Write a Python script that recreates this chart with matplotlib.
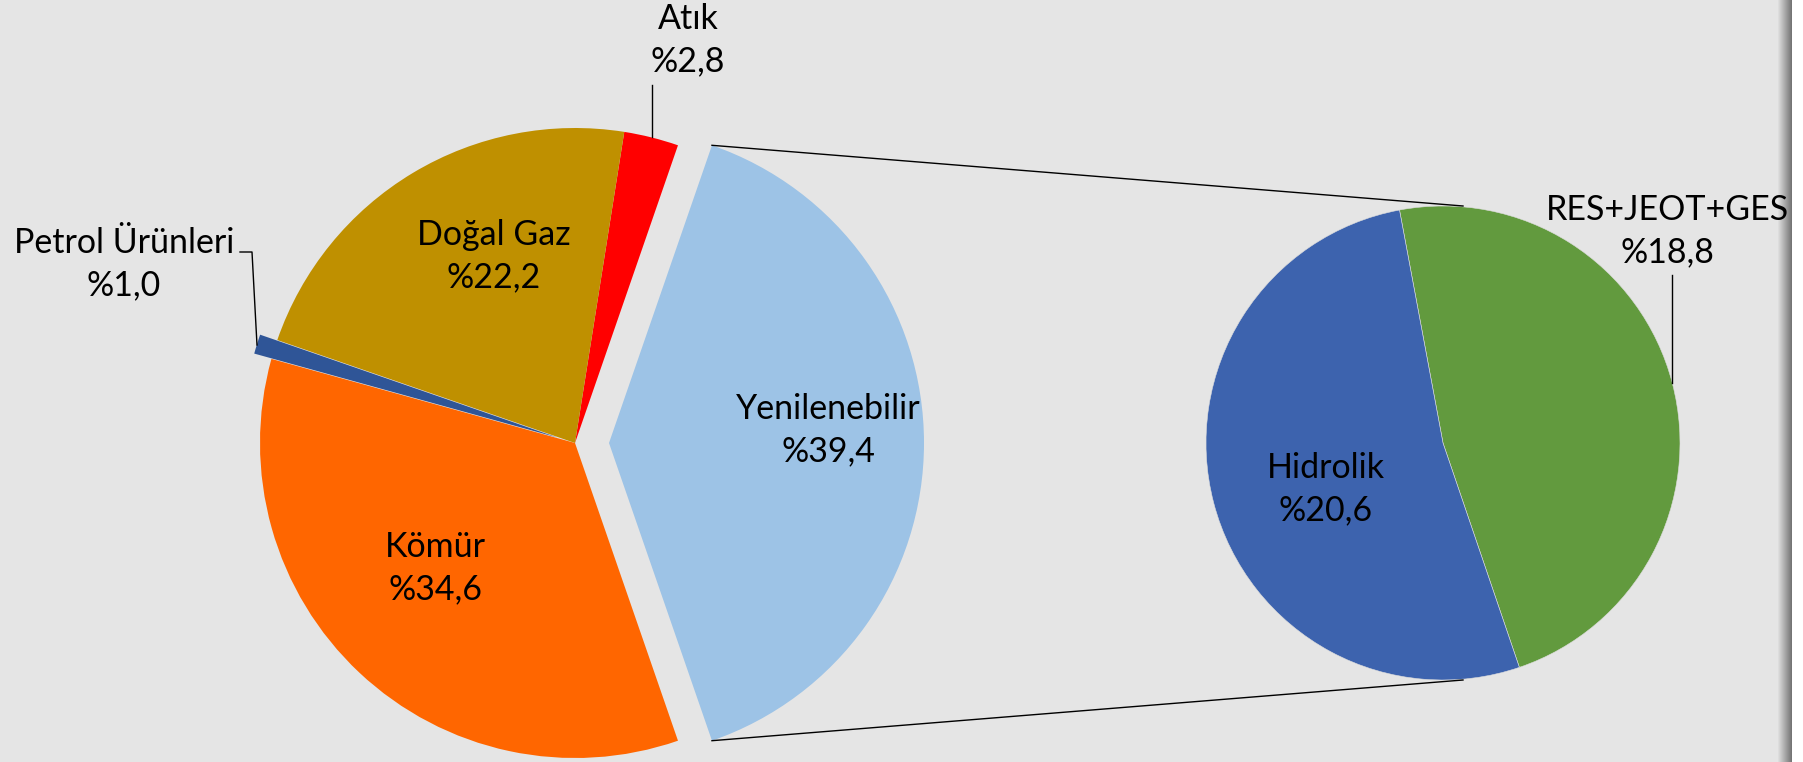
import numpy as np
import matplotlib.pyplot as plt
from matplotlib.patches import Rectangle

plt.rcParams['font.family'] = ['Lato', 'DejaVu Sans']

# main pie (order: counter-clockwise from the exploded slice)
main_labels = ['Yenilenebilir', 'Atık', 'Doğal Gaz', 'Petrol Ürünleri', 'Kömür']
main_vals = [39.4, 2.8, 22.2, 1.0, 34.6]
main_colors = ['#9DC3E6', '#FF0000', '#BF9000', '#2F5597', '#FF6600']

# breakdown of Yenilenebilir
sub_labels = ['RES+JEOT+GES', 'Hidrolik']
sub_vals = [18.8, 20.6]
sub_colors = ['#629A3E', '#3D63AE']


def pct(v):
    return ('%' + f'{v:.1f}').replace('.', ',')


W, H = 1803, 762
fig = plt.figure(figsize=(W / 100, H / 100), dpi=100)
fig.patch.set_facecolor('white')
ax = fig.add_axes([0, 0, 1, 1])

# background + right-side shadow
ax.add_patch(Rectangle((0, 0), 1780, H, color='#E5E5E5', zorder=0))
grad = np.linspace(0.88, 0.45, 50).reshape(1, -1)
ax.imshow(grad, extent=[1778, 1792, 0, H], cmap='gray', vmin=0, vmax=1,
          aspect='auto', zorder=0)

c1, r1 = (575, 319), 315
c2, r2 = (1443, 319), 237

start1 = -main_vals[0] * 3.6 / 2
w1, _ = ax.pie(main_vals, colors=main_colors, startangle=start1, center=c1,
               radius=r1, explode=[34, 0, 0, 18, 0],
               wedgeprops=dict(linewidth=0))
w2, _ = ax.pie(sub_vals, colors=sub_colors, startangle=-71.2, center=c2,
               radius=r2, wedgeprops=dict(edgecolor='#dddddd', linewidth=0.4))

# connector lines from the exploded slice to the second pie
yw = w1[0]
cx, cy = yw.center
for ang, sgn in [(yw.theta2, 1), (yw.theta1, -1)]:
    x0 = cx + r1 * np.cos(np.radians(ang))
    y0 = cy + r1 * np.sin(np.radians(ang))
    ax.plot([x0, c2[0] + 20], [y0, c2[1] + sgn * r2], color='black', lw=1)

fs = 24.5
label_pos = {
    'Yenilenebilir': (828, 332),
    'Atık': (688, 722),
    'Doğal Gaz': (494, 506),
    'Petrol Ürünleri': (124, 498),
    'Kömür': (435, 194),
    'RES+JEOT+GES': (1667, 531),
    'Hidrolik': (1326, 273),
}
for name, v in list(zip(main_labels, main_vals)) + list(zip(sub_labels, sub_vals)):
    x, y = label_pos[name]
    ax.text(x, y, f'{name}\n{pct(v)}', ha='center', va='center', fontsize=fs,
            linespacing=1.4, color='black')

# leader lines
ax.plot([652, 652], [H - 85, H - 137], color='black', lw=1)
ax.plot([240, 252, 257], [H - 252, H - 252, H - 345], color='black', lw=1)
ax.plot([1672, 1672], [H - 275, H - 383], color='black', lw=1)

ax.set_xlim(0, W)
ax.set_ylim(0, H)
ax.set_aspect('equal')
ax.axis('off')

fig.savefig('out.png', dpi=100, facecolor=fig.get_facecolor())
